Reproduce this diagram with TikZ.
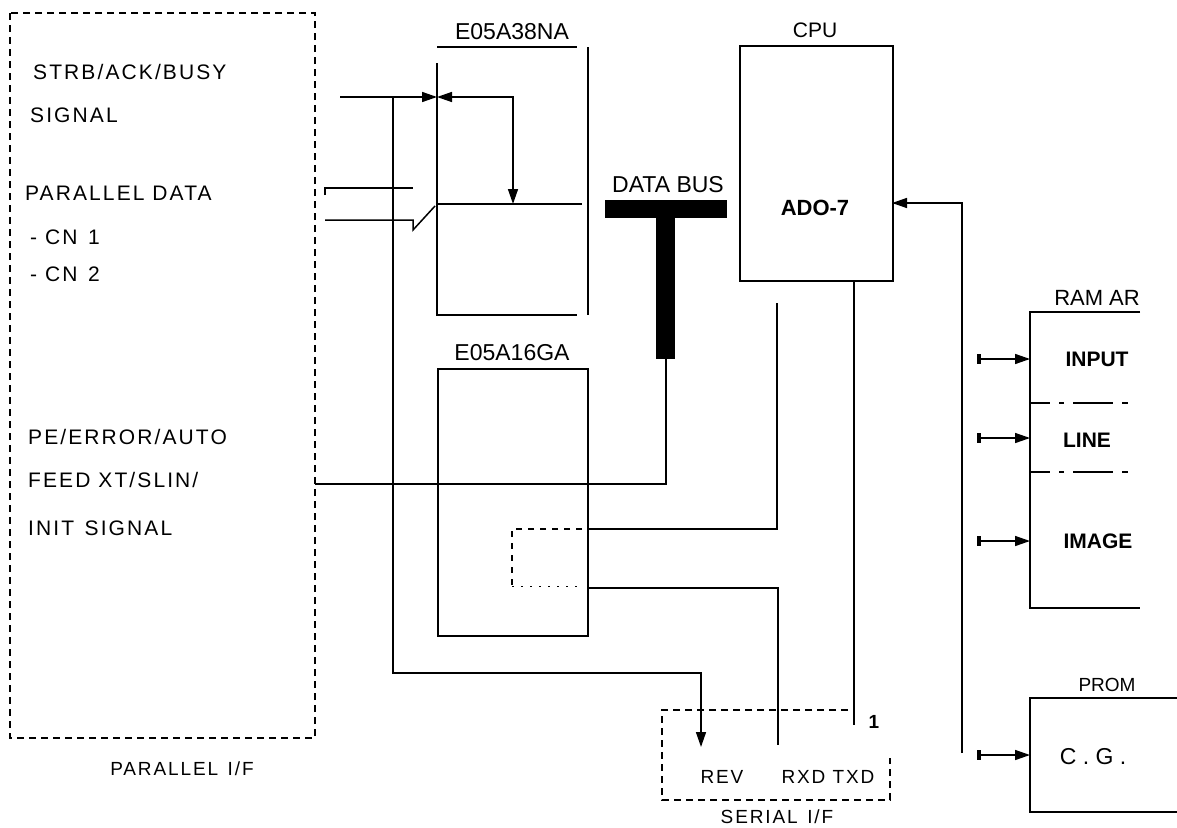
\documentclass[tikz,border=0pt]{standalone}
\usepackage{fontspec}
\setmainfont{Liberation Sans}
\newfontfamily\spacedfont{Liberation Sans}[LetterSpace=10]
\usepackage{xcolor}
\usepackage{tikz}
\usetikzlibrary{arrows.meta, positioning, calc}
\definecolor{SchemInk}{RGB}{0, 0, 0}

\tikzset{
  lbl/.style={font=\fontsize{23}{26}\selectfont, inner sep=0pt, text=SchemInk},
  sigtext/.style={font=\spacedfont\fontsize{21}{24}\selectfont, inner sep=0pt, text=SchemInk, anchor=west},
  lblsmall/.style={font=\spacedfont\fontsize{19}{22}\selectfont, inner sep=0pt, text=SchemInk},
  lblbold/.style={font=\fontsize{21}{24}\selectfont\bfseries, inner sep=0pt, text=SchemInk},
  boxline/.style={line width=2pt, draw=SchemInk},
  wire/.style={line width=1.5pt, draw=SchemInk},
  dashbox/.style={line width=2.6pt, draw=SchemInk, dash pattern=on 7pt off 5pt},
  tip/.style={-{Triangle[length=15pt,width=10pt]}},
  feed/.style={wire, {Rectangle[length=4pt,width=10pt]}-{Triangle[length=15pt,width=10pt]}},
  ramsplit/.style={line width=2pt, draw=SchemInk, dash pattern=on 20pt off 9pt on 5pt off 9pt on 40pt off 9pt on 6pt off 20pt}
}

\begin{document}
\begin{tikzpicture}[x=1pt, y=-1pt]
  \useasboundingbox (0,0) rectangle (1177,827);

  % parallel interface
  \draw[dashbox] (10,13) rectangle (315,738);
  \coordinate (parE) at (315,484);
  \node[sigtext] (strb) at (33,72) {STRB/ACK/BUSY};
  \node[sigtext] (strbsig) at (30,115) {SIGNAL};
  \node[sigtext] (pdata) at (25,193) {PARALLEL DATA};
  \node[sigtext] (cnone) at (30,237) {- CN\enspace 1};
  \node[sigtext] (cntwo) at (30,274) {- CN\enspace 2};
  \node[sigtext] (pe) at (28,437) {PE/ERROR/AUTO};
  \node[sigtext] (feedxt) at (28,480) {FEED XT/SLIN/};
  \node[sigtext] (initsig) at (28,528) {INIT\enspace SIGNAL};
  \node[lblsmall] (parlbl) at (182,769) {PARALLEL\enspace I/F};

  % E05A38NA
  \node[lbl] (latchlbl) at (512,32) {E05A38NA};
  \draw[boxline] (437,47) -- (577,47);
  \draw[boxline] (437,63) -- (437,315) -- (577,315);
  \draw[boxline] (588,47) -- (588,315);
  \coordinate (latchL) at (437,97);
  \coordinate (latchM) at (437,204);
  \draw[boxline] (latchM) -- (582,204);
  \draw[wire, tip] (340,97) -- (latchL);
  \draw[wire, {Triangle[length=15pt,width=10pt]}-{Triangle[length=15pt,width=10pt]}]
    (latchL) -- (513,97) -- (513,204);
  \draw[wire] (325,195) -- (325,188) -- (413,188);
  \draw[wire] (325,220) -- (413,220) -- (413,230) -- (435,206);

  % data bus
  \fill[SchemInk] (605,200) rectangle (727,218);
  \fill[SchemInk] (656,218) rectangle (675,359);
  \coordinate (busfoot) at (666,359);
  \node[lbl] (buslbl) at (668,185) {DATA BUS};
  \draw[wire] (busfoot) -- (666,484) -- (parE);

  % E05A16GA
  \node[boxline, draw, minimum width=150pt, minimum height=267pt, inner sep=0pt,
    anchor=north west] (gate) at (437,368) {};
  \node[lbl] (gatelbl) at (512,353) {E05A16GA};
  \draw[line width=1.8pt, dash pattern=on 6pt off 6pt] (582,529) -- (512,529) -- (512,586);
  \draw[line width=0.8pt, dash pattern=on 2pt off 7pt] (512,586) -- (582,586);
  \draw[wire] (gate.east |- 0,529) -- (777,529) -- (777,303);
  \draw[wire] (gate.east |- 0,588) -- (778,588) -- (778,745);

  % REV line
  \draw[wire, tip] (393,98) |- (701,673) -- (701,747);

  % CPU
  \node[boxline, draw, minimum width=153pt, minimum height=235pt, inner sep=0pt,
    anchor=north west] (cpu) at (739,45) {};
  \node[font=\fontsize{21}{24}\selectfont, inner sep=0pt] (cpulbl) at (815,30) {CPU};
  \node[font=\fontsize{22}{25}\selectfont\bfseries, inner sep=0pt] (ado) at (815,208) {ADO-7};
  \coordinate (cpuin) at (892,203);
  \draw[wire] (854,280) -- (854,725);
  \node[font=\fontsize{19}{22}\selectfont\bfseries, inner sep=0pt] (txdone) at (874,722) {1};
  \draw[wire, tip] (962,753) -- (962,203) -- (cpuin);

  % serial interface
  \draw[dashbox, line width=2pt] (848,710) -- (662,710) -- (662,800) -- (890,800) -- (890,758);
  \node[lblsmall] (rev) at (722,777) {REV};
  \node[lblsmall] (rxtx) at (828,777) {RXD TXD};
  \node[lblsmall] (serlbl) at (777,817) {SERIAL\enspace I/F};

  % RAM
  \draw[boxline] (1140,312) -| (1030,608) -- (1140,608);
  \draw[ramsplit] (1030,403) -- (1140,403);
  \draw[ramsplit] (1030,472) -- (1140,472);
  \node[font=\fontsize{22}{25}\selectfont, inner sep=0pt, anchor=east] (ramlbl) at (1140,298) {RAM AR};
  \node[lblbold] (input) at (1097,359) {INPUT};
  \node[lblbold] (line) at (1087,440) {LINE};
  \node[lblbold] (image) at (1098,541) {IMAGE};
  \draw[feed] (977,359) -- (1030,359);
  \draw[feed] (977,438) -- (1030,438);
  \draw[feed] (977,541) -- (1030,541);

  % PROM
  \draw[boxline] (1177,698) -| (1030,812) -- (1177,812);
  \node[font=\fontsize{19}{22}\selectfont, inner sep=0pt] (promlbl) at (1107,685) {PROM};
  \node[lbl] (cg) at (1093,757) {C . G .};
  \draw[feed] (977,755) -- (1030,755);
\end{tikzpicture}
\end{document}
